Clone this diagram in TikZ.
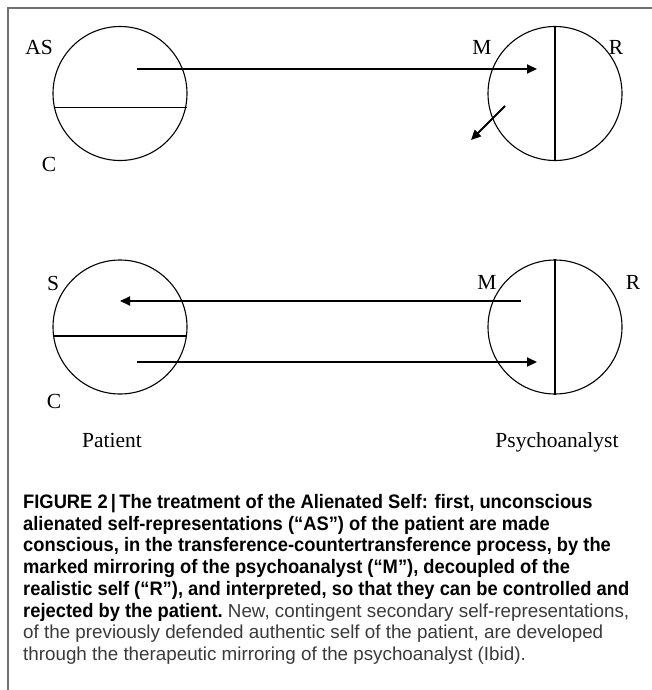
\documentclass[tikz,border=0pt]{standalone}
\usepackage{fontspec}
\setmainfont{Liberation Serif}
\newfontfamily\capbold{Liberation Sans}[FakeStretch=0.94]
\newfontfamily\capreg{Liberation Sans}
\usetikzlibrary{arrows.meta}
\definecolor{framegray}{HTML}{707070}
\definecolor{lightcap}{HTML}{3A3A3A}
\tikzset{
  selfcircle/.style={circle, draw, line width=1.1pt, minimum size=134pt, inner sep=0pt},
  flow/.style={line width=2pt, -{Triangle[length=10pt,width=9pt]}},
  lbl/.style={font=\fontsize{21.5}{21.5}\selectfont, inner sep=0pt},
  divider/.style={line width=1.1pt},
  capline/.style={anchor=base west, inner sep=0pt},
}
\newcommand{\capB}[1]{{\capbold\bfseries\fontsize{19.5}{21.7}\selectfont #1}}
\newcommand{\capR}[1]{{\capreg\fontsize{18.8}{21.7}\selectfont\color{lightcap}#1}}
\begin{document}
\begin{tikzpicture}[x=1pt,y=-1pt]
\useasboundingbox (0,0) rectangle (652,690);
\draw[framegray, line width=1.3pt] (8,690) -- (8,8) -- (652,8);
% top row
\node[selfcircle] (p1) at (120,93.5) {};
\node[selfcircle] (a1) at (555,93.5) {};
\coordinate (p1cl) at (53.5,107.5);
\coordinate (p1cr) at (186.5,107.5);
\draw[divider] (p1cl) -- (p1cr);
\draw[divider] (a1.north) -- (a1.south);
\coordinate (t1s) at (137,69);
\coordinate (t1e) at (537,69);
\draw[flow] (t1s) -- (t1e);
\coordinate (d1s) at (505,106);
\coordinate (d1e) at (471,140);
\draw[flow] (d1s) -- (d1e);
\node[lbl] (lAS) at (39,47) {AS};
\node[lbl] (lC1) at (49,164) {C};
\node[lbl] (lM1) at (482,47) {M};
\node[lbl] (lR1) at (616,47) {R};
% bottom row
\node[selfcircle] (p2) at (120,327) {};
\node[selfcircle] (a2) at (555,327) {};
\coordinate (p2cl) at (53.2,336);
\coordinate (p2cr) at (186.8,336);
\draw[divider] (p2cl) -- (p2cr);
\draw[divider] (a2.north) -- (a2.south);
\coordinate (b1s) at (521,301);
\coordinate (b1e) at (120,301);
\draw[flow] (b1s) -- (b1e);
\coordinate (b2s) at (137,362);
\coordinate (b2e) at (537,362);
\draw[flow] (b2s) -- (b2e);
\node[lbl] (lS) at (53,283) {S};
\node[lbl] (lC2) at (54,401) {C};
\node[lbl] (lM2) at (487,282) {M};
\node[lbl] (lR2) at (633,282) {R};
\node[lbl, anchor=base] (pat) at (112,447) {Patient};
\node[lbl, anchor=base] (psy) at (557,447) {Psychoanalyst};
% caption
\node[capline] (c1) at (23,508.5) {\capB{FIGURE 2\,|\,The treatment of the Alienated Self: first, unconscious}};
\node[capline] (c2) at (23,530.2) {\capB{alienated self-representations (“AS”) of the patient are made}};
\node[capline] (c3) at (23,551.9) {\capB{conscious, in the transference-countertransference process, by the}};
\node[capline] (c4) at (23,573.6) {\capB{marked mirroring of the psychoanalyst (“M”), decoupled of the}};
\node[capline] (c5) at (23,595.3) {\capB{realistic self (“R”), and interpreted, so that they can be controlled and}};
\node[capline] (c6) at (23,617.0) {\capB{rejected by the patient.\ }\capR{New, contingent secondary self-representations,}};
\node[capline] (c7) at (23,638.7) {\capR{of the previously defended authentic self of the patient, are developed}};
\node[capline] (c8) at (23,660.4) {\capR{through the therapeutic mirroring of the psychoanalyst (Ibid).}};
\end{tikzpicture}
\end{document}
